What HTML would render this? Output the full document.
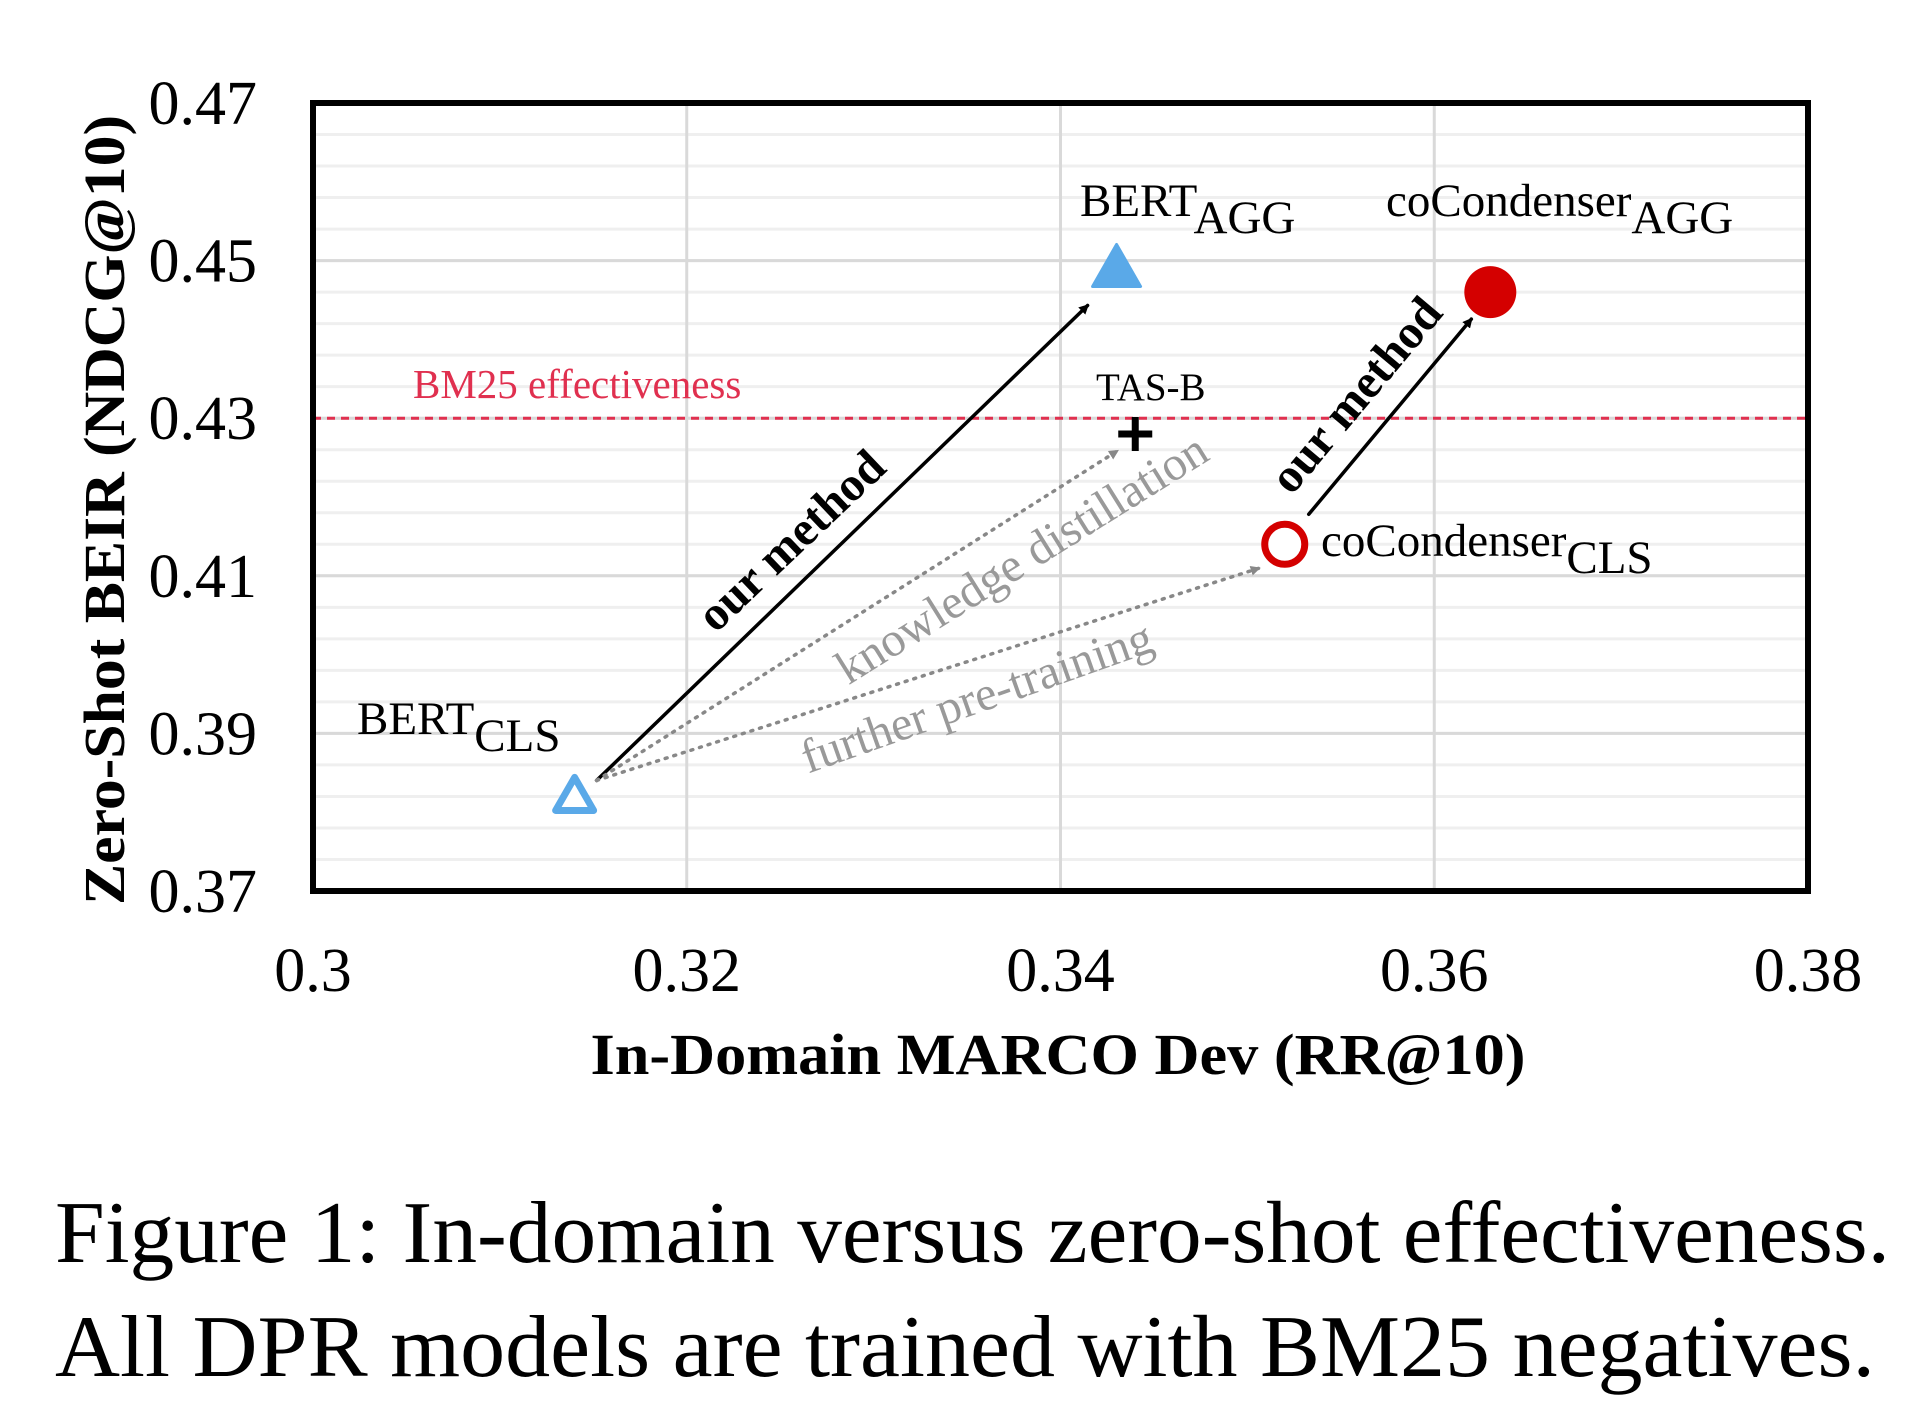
<!DOCTYPE html>
<html><head><meta charset="utf-8">
<style>
html,body{margin:0;padding:0;background:#fff;}
svg{display:block;font-family:"Liberation Serif",serif;}
</style></head>
<body>
<svg id="chart" width="1919" height="1421" viewBox="0 0 1919 1421" xmlns="http://www.w3.org/2000/svg">
<defs>
<marker id="ahB" markerWidth="10" markerHeight="10" refX="8" refY="5" orient="auto" markerUnits="userSpaceOnUse" viewBox="0 0 10 10"><path d="M0,0 L10,5 L0,10 z" fill="#000"/></marker>
<marker id="ahG" markerWidth="10" markerHeight="10" refX="8" refY="5" orient="auto" markerUnits="userSpaceOnUse" viewBox="0 0 10 10"><path d="M0,0 L10,5 L0,10 z" fill="#888"/></marker>
</defs>
<g id="grid"></g>
<g id="marks"></g>
<g id="axes"></g>
<text x="55" y="1262" font-size="88" textLength="1835" lengthAdjust="spacingAndGlyphs">Figure 1: In-domain versus zero-shot effectiveness.</text>
<text x="55" y="1376" font-size="88" textLength="1820" lengthAdjust="spacingAndGlyphs">All DPR models are trained with BM25 negatives.</text>
</svg>
<script>
const xTicks = [0.3, 0.32, 0.34, 0.36, 0.38];
const xTickLabels = ["0.3", "0.32", "0.34", "0.36", "0.38"];
const yTicks = [0.37, 0.39, 0.41, 0.43, 0.45, 0.47];
const yTickLabels = ["0.37", "0.39", "0.41", "0.43", "0.45", "0.47"];
const modelNames = ["BERT_CLS", "BERT_AGG", "TAS-B", "coCondenser_CLS", "coCondenser_AGG"];
const modelX = [0.314, 0.343, 0.344, 0.352, 0.363];
const modelY = [0.382, 0.449, 0.428, 0.414, 0.446];
const bm25Value = [0.43];

const NS = "http://www.w3.org/2000/svg";
const L = 313, R = 1808, T = 103, B = 891;
function sx(v){ return L + (v - 0.3) / 0.08 * (R - L); }
function sy(v){ return B - (v - 0.37) / 0.10 * (B - T); }
function mk(tag, attrs, parent, text){
  const e = document.createElementNS(NS, tag);
  for (const k in attrs) e.setAttribute(k, attrs[k]);
  if (text !== undefined) e.textContent = text;
  parent.appendChild(e);
  return e;
}
const grid = document.getElementById('grid');
const marks = document.getElementById('marks');
const axes = document.getElementById('axes');

for (let i = 0; i <= 25; i++) {
  const v = 0.37 + i * 0.004;
  const ln = mk('line', {x1: L, x2: R, y1: sy(v), y2: sy(v), stroke: '#efefef', 'stroke-width': 3}, grid);
  
  
}
yTicks.forEach((v, i) => {
  const ln = mk('line', {x1: L, x2: R, y1: sy(v), y2: sy(v), stroke: '#d9d9d9', 'stroke-width': 3}, grid);
  
  
  const t = mk('text', {x: 257, y: sy(v) + 21, 'text-anchor': 'end', 'font-size': 62}, axes, yTickLabels[i]);
  
  
});
xTicks.forEach((v, i) => {
  const ln = mk('line', {x1: sx(v), x2: sx(v), y1: T, y2: B, stroke: '#d9d9d9', 'stroke-width': 3}, grid);
  
  
  const t = mk('text', {x: sx(v), y: 991, 'text-anchor': 'middle', 'font-size': 62}, axes, xTickLabels[i]);
  
  
});
const fr = mk('rect', {x: L, y: T, width: R - L, height: B - T, fill: 'none', stroke: '#000', 'stroke-width': 6}, axes);


const xt = mk('text', {x: 1058, y: 1074, 'text-anchor': 'middle', 'font-size': 58, 'font-weight': 'bold', textLength: 935, lengthAdjust: 'spacingAndGlyphs'}, axes, 'In-Domain MARCO Dev (RR@10)');


const yt = mk('text', {x: 0, y: 0, 'text-anchor': 'middle', 'font-size': 58, 'font-weight': 'bold', textLength: 790, lengthAdjust: 'spacingAndGlyphs', transform: 'translate(124,510) rotate(-90)'}, axes, 'Zero-Shot BEIR (NDCG@10)');



const bmy = sy(bm25Value[0]);
const bm = mk('line', {x1: L, x2: R, y1: bmy, y2: bmy, stroke: '#e0304f', 'stroke-width': 3, 'stroke-dasharray': '8,6'}, marks);


const bmt = mk('text', {x: 413, y: bmy - 20, 'font-size': 41, fill: '#e0304f'}, marks, 'BM25 effectiveness');



const P = modelX.map((x, i) => [sx(x), sy(modelY[i])]);

function arrow(x1, y1, x2, y2, gray, name){
  const a = mk('line', {x1, y1, x2, y2, stroke: gray ? '#888' : '#000', 'stroke-width': gray ? 3.5 : 3.5, 'stroke-dasharray': gray ? '2,7' : 'none', 'stroke-linecap': 'round', 'marker-end': gray ? 'url(#ahG)' : 'url(#ahB)'}, marks);
  
  
}
const s0 = [P[0][0] + 22, P[0][1] - 16];
arrow(s0[0], s0[1], P[1][0] - 29, P[1][1] + 37, false, 'our-method-arrow-bert');
arrow(s0[0], s0[1], P[2][0] - 18, P[2][1] + 17, true, 'distillation-arrow');
arrow(s0[0], s0[1], P[3][0] - 26, P[3][1] + 24, true, 'pretraining-arrow');
arrow(P[3][0] + 24, P[3][1] - 30, P[4][0] - 19, P[4][1] + 27, false, 'our-method-arrow-cocondenser');

function rtext(txt, cx, cy, ang, size, fill, bold, name){
  const t = mk('text', {x: 0, y: 0, 'text-anchor': 'middle', 'font-size': size, fill: fill, 'font-weight': bold ? 'bold' : 'normal', transform: `translate(${cx},${cy}) rotate(${ang})`}, marks, txt);
  
  
}
rtext('our method', 802, 552, -43.5, 48, '#000', true, 'our-method-label-1');
rtext('our method', 1368, 405, -50, 48, '#000', true, 'our-method-label-2');
rtext('knowledge distillation', 1030, 572, -32, 48, '#999', false, 'distillation-label');
rtext('further pre-training', 982, 712, -19.5, 48, '#999', false, 'pretraining-label');

const m0 = mk('path', {d: `M${P[0][0]},${P[0][1]-19} L${P[0][0]+19},${P[0][1]+14} L${P[0][0]-19},${P[0][1]+14} Z`, fill: '#fff', stroke: '#5aa9e8', 'stroke-width': 7, 'stroke-linejoin': 'round'}, marks);


const m1 = mk('path', {d: `M${P[1][0]},${P[1][1]-24} L${P[1][0]+24},${P[1][1]+18} L${P[1][0]-24},${P[1][1]+18} Z`, fill: '#5aa9e8', stroke: '#5aa9e8', 'stroke-width': 3, 'stroke-linejoin': 'round'}, marks);


const m2 = mk('path', {d: `M${P[2][0]-17},${P[2][1]} H${P[2][0]+17} M${P[2][0]},${P[2][1]-17} V${P[2][1]+17}`, stroke: '#000', 'stroke-width': 7}, marks);


const m3 = mk('circle', {cx: P[3][0], cy: P[3][1], r: 20, fill: '#fff', stroke: '#d40000', 'stroke-width': 7}, marks);


const m4 = mk('circle', {cx: P[4][0], cy: P[4][1], r: 26, fill: '#d40000'}, marks);



function lab(base, sub, x, y, name){
  const t = mk('text', {x, y, 'font-size': 47}, marks);
  
  
  mk('tspan', {}, t, base);
  mk('tspan', {dy: 17}, t, sub);
}
lab('BERT', 'CLS', 357, 734, 'label-bert-cls');
lab('BERT', 'AGG', 1080, 216, 'label-bert-agg');
lab('coCondenser', 'AGG', 1386, 216, 'label-cocondenser-agg');
lab('coCondenser', 'CLS', 1321, 556, 'label-cocondenser-cls');
const tb = mk('text', {x: 1096, y: 400, 'font-size': 39}, marks, 'TAS-B');


</script>
</body></html>
